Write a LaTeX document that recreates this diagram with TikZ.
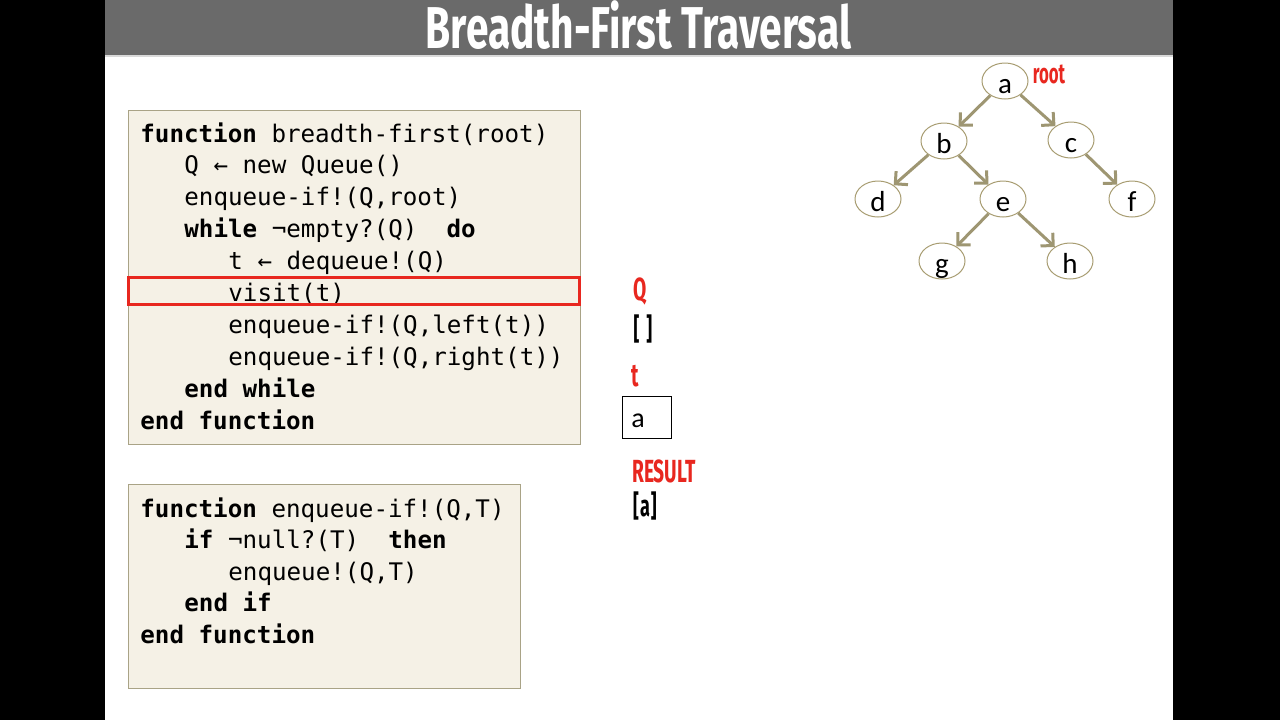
\documentclass[tikz,border=0pt]{standalone}
\usepackage{fontspec}
\setmainfont{Carlito}
\newfontfamily\codefont{DejaVu Sans Mono}
\newfontfamily\headfont[FakeStretch=0.6]{Fira Sans}
\newfontfamily\titlefont[FakeStretch=0.69]{Fira Sans}
\usetikzlibrary{arrows.meta,shapes.geometric}
\definecolor{slidegray}{HTML}{6A6A6A}
\definecolor{codebg}{HTML}{F5F1E6}
\definecolor{codeframe}{HTML}{A9A386}
\definecolor{edgeolive}{HTML}{9E9672}
\definecolor{ringtan}{HTML}{A89D72}
\definecolor{hired}{HTML}{E8271F}
\newcommand\kw[1]{\textbf{#1}}
\tikzset{
        codebox/.style={fill=codebg, draw=codeframe, line width=0.45pt},
        codeline/.style={anchor=base west, inner sep=0pt, font=\codefont\fontsize{12.1}{14}\selectfont},
        treenode/.style={ellipse, draw=ringtan, fill=white, line width=0.5pt,
            minimum width=23pt, minimum height=18pt, inner sep=0pt},
        treetext/.style={anchor=base, inner sep=0pt, font=\fontsize{14.5}{16}\selectfont},
        treeedge/.style={draw=edgeolive, line width=1.5pt, -{Straight Barb[length=4.5pt,width=9pt]}},
        redlabel/.style={text=hired, inner sep=0pt, font=\headfont\bfseries\fontsize{16}{18}\selectfont},
        blacklabel/.style={text=black, inner sep=0pt, font=\headfont\bfseries\fontsize{15}{18}\selectfont},
    }
\begin{document}
\begin{tikzpicture}[x=0.5pt, y=-0.5pt]
    \useasboundingbox (0,0) rectangle (1280,720);
    \fill[black] (0,0) rectangle (1280,720);
    \fill[white] (105,0) rectangle (1173,720);
    \fill[slidegray] (105,0) rectangle (1173,55);
    \fill[black!15] (105,55) rectangle (1173,57);
    \node[inner sep=0pt, text=white, font=\titlefont\bfseries\fontsize{29.5}{30}\selectfont] (title) at (638.5,25) {Breadth-First Traversal};

    % code boxes
    \draw[codebox] (128,110) rectangle (580,444);
    \draw[codebox] (128,484) rectangle (520,688);
    \foreach \i/\ind/\txt in {
            0/0/{\kw{function} breadth-first(root)},
            1/1/{Q ← new Queue()},
            2/1/{enqueue-if!(Q,root)},
            3/1/{\kw{while} ¬empty?(Q)~~\kw{do}},
            4/2/{t ← dequeue!(Q)},
            5/2/{visit(t)},
            6/2/{enqueue-if!(Q,left(t))},
            7/2/{enqueue-if!(Q,right(t))},
            8/1/{\kw{end while}},
            9/0/{\kw{end function}}}
    {
        \node[codeline] (bf\i) at (140+44*\ind, 142+31.9*\i) {\txt};
    }
    \foreach \i/\ind/\txt in {
            0/0/{\kw{function} enqueue-if!(Q,T)},
            1/1/{\kw{if} ¬null?(T)~~\kw{then}},
            2/2/{enqueue!(Q,T)},
            3/1/{\kw{end if}},
            4/0/{\kw{end function}}}
    {
        \node[codeline] (eq\i) at (140+44*\ind, 517+31.5*\i) {\txt};
    }
    \draw[hired, line width=1.9pt] (128.5,277.5) rectangle (579.5,304.5);

    % state of the traversal
    \node[redlabel] (qlabel) at (640,291) {Q};
    \node[blacklabel] (qval) at (643,329) {[\hspace{3.5pt}]};
    \node[redlabel] (tlabel) at (635,376) {t};
    \node[draw, line width=0.5pt, minimum width=24.5pt, minimum height=21pt, inner sep=0pt] (tbox) at (646.5,417) {};
    \node[anchor=base west, inner sep=0pt, font=\fontsize{14}{16}\selectfont] (tval) at (631,427) {a};
    \node[redlabel] (reslabel) at (664,471) {RESULT};
    \node[blacklabel] (resval) at (645,506) {[\hspace{0.5pt}a\hspace{0.5pt}]};

    % tree
    \foreach \n/\x/\y in {a/1005/81, b/944/141, c/1071/140, d/878/199, e/1003/199, f/1132/199, g/942/261, h/1070/261}
    {
        \node[treenode] (\n) at (\x,\y) {};
        \node[treetext] (\n-txt) at (\x,\y+12) {\n};
    }
    \foreach \p/\c in {a/b, a/c, b/d, b/e, c/f, e/g, e/h}
        \draw[treeedge] (\p) -- (\c);
    \node[redlabel, font=\headfont\bfseries\fontsize{14}{16}\selectfont] (rootlabel) at (1049,74) {root};
\end{tikzpicture}
\end{document}
